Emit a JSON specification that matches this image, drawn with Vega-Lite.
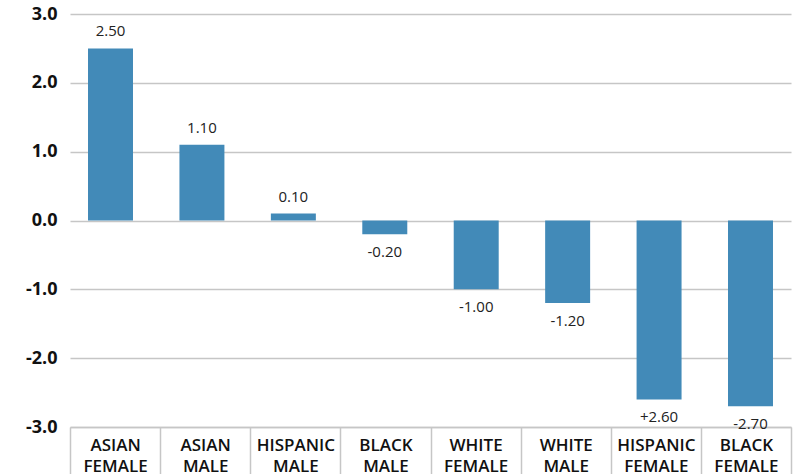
{
  "$schema": "https://vega.github.io/schema/vega-lite/v6.json",
  "width": 721,
  "height": 413,
  "autosize": {"type": "none"},
  "padding": {"left": 70, "top": 14, "right": 3, "bottom": 47},
  "background": "white",
  "config": {"view": {"stroke": null}},
  "data": {
    "values": [
      {"group": "ASIAN FEMALE", "value": 2.5, "label": "2.50"},
      {"group": "ASIAN MALE", "value": 1.1, "label": "1.10"},
      {"group": "HISPANIC MALE", "value": 0.1, "label": "0.10"},
      {"group": "BLACK MALE", "value": -0.2, "label": "-0.20"},
      {"group": "WHITE FEMALE", "value": -1.0, "label": "-1.00"},
      {"group": "WHITE MALE", "value": -1.2, "label": "-1.20"},
      {"group": "HISPANIC FEMALE", "value": -2.6, "label": "+2.60"},
      {"group": "BLACK FEMALE", "value": -2.7, "label": "-2.70"}
    ]
  },
  "layer": [
    {
      "encoding": {
        "x": {
          "field": "group",
          "type": "nominal",
          "sort": null,
          "scale": {"paddingInner": 0.508, "paddingOuter": 0.197},
          "axis": null
        },
        "y": {
          "field": "value",
          "type": "quantitative",
          "scale": {"domain": [-3, 3], "nice": false, "zero": false},
          "axis": {
            "title": null,
            "values": [-3, -2, -1, 0, 1, 2, 3],
            "labelExpr": "replace(format(datum.value, '.1f'), '\u2212', '-')",
            "domain": false,
            "ticks": false,
            "grid": true,
            "gridColor": "#c6c6c6",
            "gridWidth": 1.5,
            "labelFont": "Open Sans",
            "labelFontWeight": 700,
            "labelFontSize": 18,
            "labelColor": "#111111",
            "labelPadding": 13
          }
        }
      },
      "layer": [
        {"mark": {"type": "bar", "color": "#428AB8"}},
        {
          "transform": [{"filter": "datum.value >= 0"}],
          "mark": {"type": "text", "font": "Open Sans", "fontSize": 15, "color": "#222222", "baseline": "alphabetic", "dy": -12},
          "encoding": {"text": {"field": "label"}}
        },
        {
          "transform": [{"filter": "datum.value < 0"}],
          "mark": {"type": "text", "font": "Open Sans", "fontSize": 15, "color": "#222222", "baseline": "alphabetic", "dy": 23},
          "encoding": {"text": {"field": "label"}}
        }
      ]
    },
    {
      "mark": {"type": "tick", "opacity": 0},
      "encoding": {
        "x": {
          "field": "group",
          "type": "nominal",
          "sort": null,
          "scale": {"paddingInner": 0, "paddingOuter": 0},
          "axis": {
            "title": null,
            "orient": "bottom",
            "labelAngle": 0,
            "labelExpr": "split(datum.label, ' ')",
            "labelFont": "Open Sans",
            "labelFontWeight": 600,
            "labelFontSize": 17,
            "labelColor": "#111111",
            "labelLineHeight": 21,
            "labelBaseline": "alphabetic",
            "labelPadding": -27,
            "labelLimit": 200,
            "tickBand": "extent",
            "tickSize": 50,
            "tickColor": "#c6c6c6",
            "tickWidth": 1.5,
            "domainColor": "#c6c6c6",
            "domainWidth": 1.5
          }
        }
      }
    }
  ],
  "resolve": {"scale": {"x": "independent"}, "axis": {"x": "independent"}}
}
